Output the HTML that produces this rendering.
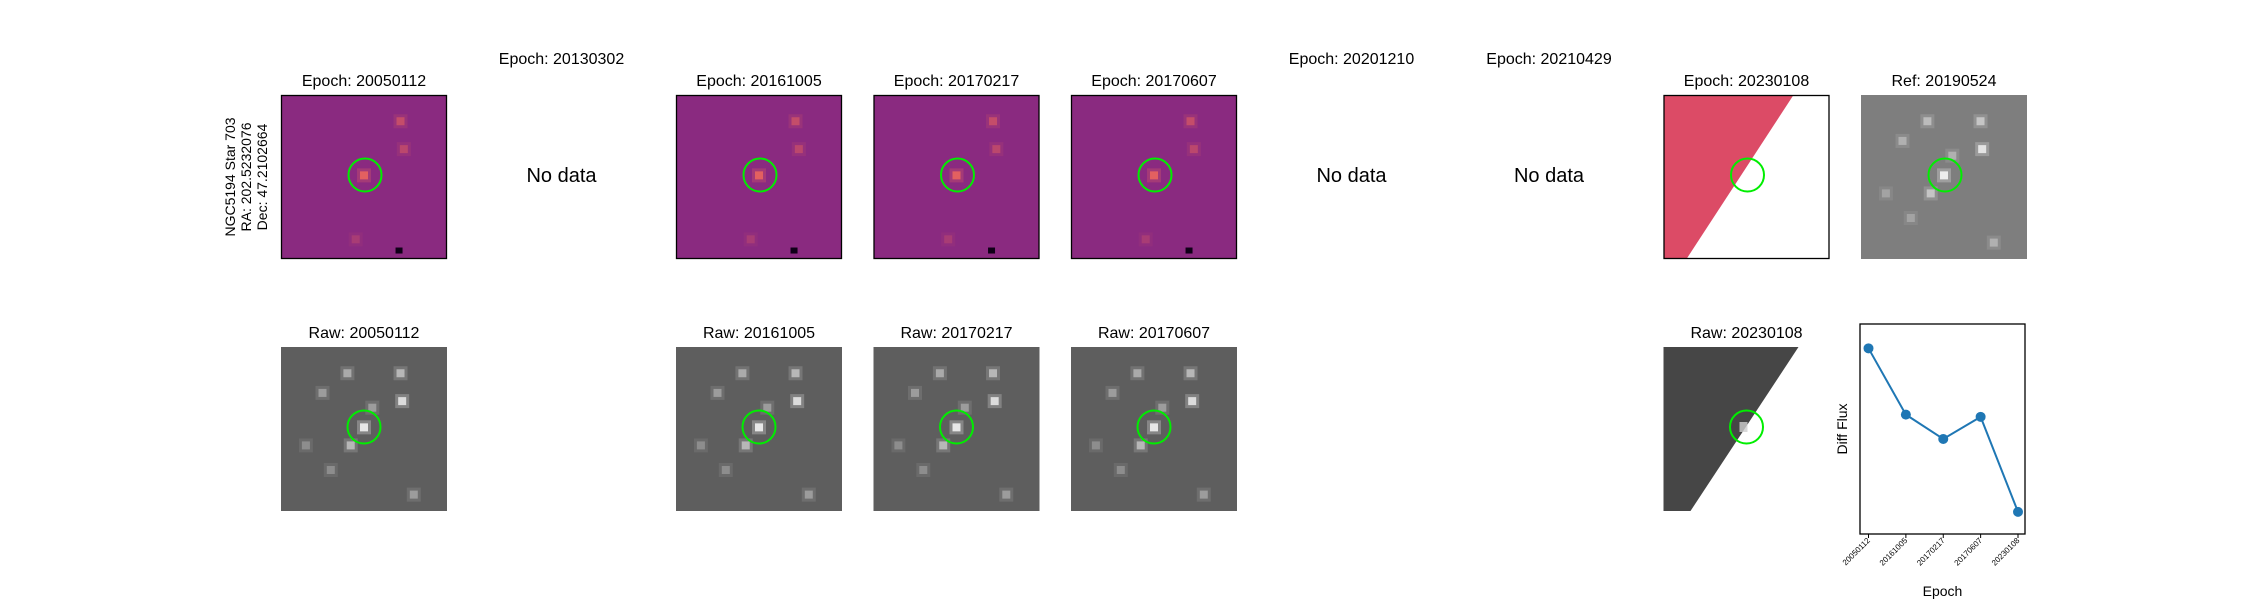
<!DOCTYPE html>
<html><head><meta charset="utf-8"><style>
html,body{margin:0;padding:0;background:#fff;}
svg{display:block;font-family:"Liberation Sans","DejaVu Sans",sans-serif;}
</style></head><body>
<svg id="fig" width="2250" height="600" viewBox="0 0 2250 600" xmlns="http://www.w3.org/2000/svg">
<g id="panels"></g>
<g font-size="14" fill="#000" text-anchor="middle">
<text transform="translate(235,177) rotate(-90)">NGC5194 Star 703</text>
<text transform="translate(251,177) rotate(-90)">RA: 202.5232076</text>
<text transform="translate(267,177) rotate(-90)">Dec: 47.2102664</text>
</g>
<g id="chart"></g>
</svg>
<script>
const NS='http://www.w3.org/2000/svg';
const epochs=['20050112','20161005','20170217','20170607','20230108'];
const fluxValues=[9.2,6.2,5.1,6.1,1.8];
const allEpochs=['20050112','20130302','20161005','20170217','20170607','20201210','20210429','20230108'];
const hasData=[1,0,1,1,1,0,0,1];

function mk(tag,attrs,parent){const e=document.createElementNS(NS,tag);for(const k in attrs)e.setAttribute(k,attrs[k]);parent.appendChild(e);return e;}
const P=document.getElementById('panels');
const W=166,H=164;
const stars=[[0.5,0.49,1],[0.73,0.33,0.9],[0.72,0.16,0.6],[0.4,0.16,0.5],[0.42,0.6,0.6],[0.55,0.37,0.4],[0.25,0.28,0.4],[0.3,0.75,0.3],[0.8,0.9,0.4],[0.15,0.6,0.3]];
function stamp(g,x,y,base,spots,col){
  mk('rect',{x:x,y:y,width:W,height:H,fill:base},g);
  spots.forEach(s=>{
    mk('rect',{x:x+s[0]*W-7,y:y+s[1]*H-7,width:14,height:14,fill:col,opacity:s[2]*0.25},g);
    mk('rect',{x:x+s[0]*W-4,y:y+s[1]*H-4,width:8,height:8,fill:col,opacity:s[2]*0.8},g);
  });
}
allEpochs.forEach((ep,i)=>{
  const x=281+i*197.5;
  const g=mk('g',{},P);
  
  
  if(!hasData[i]){
    const t=mk('text',{x:x+W/2,y:64,'font-size':16,'text-anchor':'middle'},g);t.textContent='Epoch: '+ep;
    
    
    const n=mk('text',{x:x+W/2,y:182,'font-size':20,'text-anchor':'middle'},g);n.textContent='No data';
    
    
    return;
  }
  const t=mk('text',{x:x+W/2,y:86,'font-size':16,'text-anchor':'middle'},g);t.textContent='Epoch: '+ep;
  
  
  const d=mk('g',{},g);
  
  
  if(ep==='20230108'){
    mk('rect',{x:x,y:95,width:W,height:H,fill:'#fff'},d);
    mk('polygon',{points:`${x},95 ${x+130},95 ${x+23},${95+H} ${x},${95+H}`,fill:'#dc4b66'},d);
  } else {
    stamp(d,x,95,'#8a2a80',[[0.5,0.49,1],[0.72,0.16,0.6],[0.74,0.33,0.5],[0.45,0.88,0.3]],'#f26a5a');
    mk('rect',{x:x+W*0.69,y:95+H*0.93,width:7,height:6,fill:'#100018'},d);
  }
  mk('rect',{x:x+0.5,y:95.5,width:W-1,height:H-1,fill:'none',stroke:'#000','stroke-width':1.3},d);
  mk('circle',{cx:x+84,cy:175,r:16.5,fill:'none',stroke:'#00ee00','stroke-width':2},d);
  const rt=mk('text',{x:x+W/2,y:338,'font-size':16,'text-anchor':'middle'},g);rt.textContent='Raw: '+ep;
  
  
  const r=mk('g',{},g);
  
  
  if(ep==='20230108'){
    mk('polygon',{points:`${x},347 ${x+135},347 ${x+27},511 ${x},511`,fill:'#464646'},r);
    mk('rect',{x:x+76,y:422,width:8,height:10,fill:'#cfcfcf',opacity:0.8},r);
  } else {
    stamp(r,x,347,'#5e5e5e',stars,'#ffffff');
  }
  mk('circle',{cx:x+83,cy:427,r:16.5,fill:'none',stroke:'#00ee00','stroke-width':2},r);
});
(function(){
  const x=1861;const g=mk('g',{},P);
  
  
  const t=mk('text',{x:x+W/2,y:86,'font-size':16,'text-anchor':'middle'},g);t.textContent='Ref: 20190524';
  
  
  stamp(g,x,95,'#7e7e7e',stars,'#ffffff');
  mk('circle',{cx:x+84,cy:175,r:16.5,fill:'none',stroke:'#00ee00','stroke-width':2},g);
})();
const C=document.getElementById('chart');
const L=1860,R=2025,T=324,B=534;
const xPos=i=>1868.5+i*(2018-1868.5)/(epochs.length-1);
const yMin=0.8,yMax=10.3;
const yPos=v=>B-(v-yMin)/(yMax-yMin)*(B-T);
const fr=mk('rect',{x:L,y:T,width:R-L,height:B-T,fill:'none',stroke:'#000','stroke-width':1.3},C);


const pl=mk('polyline',{points:fluxValues.map((v,i)=>xPos(i)+','+yPos(v)).join(' '),fill:'none',stroke:'#1f77b4','stroke-width':2},C);


fluxValues.forEach((v,i)=>{
  const c=mk('circle',{cx:xPos(i),cy:yPos(v),r:5,fill:'#1f77b4'},C);
  
  
  const tk=mk('line',{x1:xPos(i),x2:xPos(i),y1:B,y2:B+4,stroke:'#000','stroke-width':1},C);
  
  
  const tl=mk('text',{transform:`translate(${xPos(i)+2},${B+7}) rotate(-45)`,'font-size':8,'text-anchor':'end'},C);
  tl.textContent=epochs[i];
  
  
});
const xl=mk('text',{x:(L+R)/2,y:596,'font-size':14,'text-anchor':'middle'},C);xl.textContent='Epoch';


const yl=mk('text',{transform:`translate(1847,${(T+B)/2}) rotate(-90)`,'font-size':14,'text-anchor':'middle'},C);yl.textContent='Diff Flux';


</script>
</body></html>
